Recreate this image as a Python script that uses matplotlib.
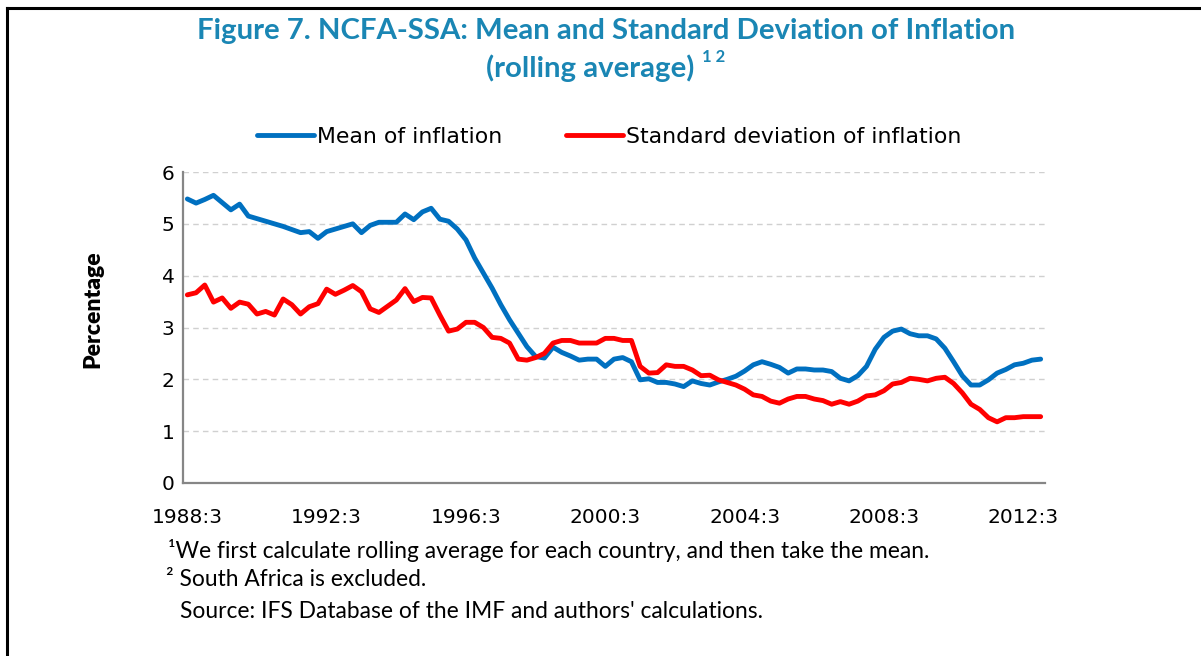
import matplotlib
matplotlib.use("Agg")
import matplotlib.pyplot as plt
from matplotlib.lines import Line2D

# ---------------- data ----------------
start_year = 1988
start_quarter = 3
n_points = 99

mean_inflation = [
    5.48, 5.40, 5.47, 5.55, 5.41, 5.27, 5.38, 5.15, 5.10, 5.05,
    5.00, 4.95, 4.89, 4.83, 4.85, 4.72, 4.85, 4.90, 4.95, 5.00,
    4.83, 4.97, 5.03, 5.03, 5.03, 5.19, 5.08, 5.23, 5.30, 5.09,
    5.05, 4.90, 4.69, 4.34, 4.05, 3.76, 3.44, 3.15, 2.89, 2.63,
    2.44, 2.41, 2.62, 2.52, 2.45, 2.37, 2.39, 2.39, 2.25, 2.39,
    2.42, 2.34, 1.99, 2.01, 1.94, 1.94, 1.91, 1.86, 1.97, 1.92,
    1.89, 1.95, 2.00, 2.06, 2.16, 2.28, 2.34, 2.29, 2.23, 2.12,
    2.20, 2.20, 2.18, 2.18, 2.15, 2.02, 1.97, 2.07, 2.25, 2.58,
    2.81, 2.93, 2.97, 2.88, 2.84, 2.84, 2.78, 2.60, 2.34, 2.07,
    1.89, 1.89, 1.99, 2.12, 2.19, 2.28, 2.31, 2.37, 2.39,
]

sd_inflation = [
    3.63, 3.67, 3.82, 3.49, 3.57, 3.37, 3.49, 3.45, 3.26, 3.31,
    3.24, 3.55, 3.44, 3.26, 3.40, 3.46, 3.74, 3.64, 3.72, 3.81,
    3.69, 3.36, 3.29, 3.41, 3.53, 3.75, 3.50, 3.58, 3.57, 3.24,
    2.93, 2.97, 3.10, 3.10, 3.00, 2.81, 2.79, 2.70, 2.39, 2.37,
    2.42, 2.50, 2.70, 2.75, 2.75, 2.70, 2.70, 2.70, 2.79, 2.79,
    2.75, 2.75, 2.25, 2.12, 2.13, 2.28, 2.25, 2.25, 2.18, 2.07,
    2.08, 1.99, 1.94, 1.89, 1.81, 1.70, 1.67, 1.58, 1.54, 1.62,
    1.67, 1.67, 1.62, 1.59, 1.52, 1.57, 1.52, 1.58, 1.68, 1.70,
    1.78, 1.91, 1.94, 2.02, 2.00, 1.97, 2.02, 2.04, 1.92, 1.74,
    1.52, 1.42, 1.26, 1.18, 1.26, 1.26, 1.28, 1.28, 1.28,
]

x_tick_labels = ["1988:3", "1992:3", "1996:3", "2000:3", "2004:3", "2008:3", "2012:3"]
y_ticks = [0, 1, 2, 3, 4, 5, 6]

title_line1 = "Figure 7. NCFA-SSA: Mean and Standard Deviation of Inflation"
title_line2 = "(rolling average)"
series_names = ["Mean of inflation", "Standard deviation of inflation"]
footnotes = [
    "\u00b9We first calculate rolling average for each country, and then take the mean.",
    "\u00b2 South Africa is excluded.",
    "Source: IFS Database of the IMF and authors' calculations.",
]

# ---------------- figure ----------------
W, H = 1201, 656
fig = plt.figure(figsize=(W / 100, H / 100), dpi=100)
fig.patch.set_facecolor("white")

ax = fig.add_axes([183 / W, 1 - 483 / H, (1045 - 183) / W, (483 - 172) / H])

x = list(range(n_points))
blue = "#0070C0"
red = "#FF0000"
ax.plot(x, mean_inflation, color=blue, lw=3.5, solid_joinstyle="round",
        solid_capstyle="round", label=series_names[0], zorder=3)
ax.plot(x, sd_inflation, color=red, lw=3.5, solid_joinstyle="round",
        solid_capstyle="round", label=series_names[1], zorder=3)

ax.set_xlim(-0.5, n_points - 0.5)
ax.set_ylim(0, 6)
ax.set_yticks(y_ticks)
ax.set_yticklabels([str(v) for v in y_ticks], fontsize=14.5, family="DejaVu Sans")
tick_pos = [i * 16 for i in range(len(x_tick_labels))]
ax.set_xticks(tick_pos)
ax.set_xticklabels(x_tick_labels, fontsize=14.5, family="DejaVu Sans")
ax.tick_params(axis="both", length=0, colors="black")
ax.tick_params(axis="x", pad=18)
ax.tick_params(axis="y", pad=6)

for v in y_ticks[1:]:
    ax.axhline(v, color="#D0D0D0", lw=1.0, ls=(0, (4, 3)), zorder=1)

for s in ["top", "right"]:
    ax.spines[s].set_visible(False)
for s in ["left", "bottom"]:
    ax.spines[s].set_color("#868686")
    ax.spines[s].set_linewidth(1.6)

ax.set_ylabel("Percentage", fontsize=16.5, fontweight="heavy", family="Lato")
ax.yaxis.set_label_coords((103 - 183) / 862, (483 - 309) / 311)

# legend
leg = fig.legend(loc="center", bbox_to_anchor=(609 / W, 1 - 137 / H), ncol=2,
                 frameon=False, handlelength=2.6, handletextpad=0.15,
                 columnspacing=2.9, prop={"family": "DejaVu Sans", "size": 15.8})

# title
title_color = "#1A86B4"
fig.text(606 / W, 1 - 31 / H, title_line1, ha="center", va="center",
         fontsize=21.2, fontweight="bold", color=title_color, family="Lato")
fig.text(486 / W, 1 - 68 / H, title_line2, ha="left", va="center",
         fontsize=21.2, fontweight="bold", color=title_color, family="Lato")
fig.text(702 / W, 1 - 57 / H, "1 2", ha="left", va="center",
         fontsize=12, fontweight="bold", color=title_color, family="Lato")

# footnotes
fig.text(168 / W, 1 - 551 / H, footnotes[0], ha="left", va="center", fontsize=16.4, family="Lato")
fig.text(166 / W, 1 - 580 / H, footnotes[1], ha="left", va="center", fontsize=16.4, family="Lato")
fig.text(180 / W, 1 - 612 / H, footnotes[2], ha="left", va="center", fontsize=16.4, family="Lato")

# outer frame (top and left)
fig.add_artist(Line2D([7 / W, 1.0], [1 - 8 / H, 1 - 8 / H], color="black", lw=2.2,
                      transform=fig.transFigure))
fig.add_artist(Line2D([7 / W, 7 / W], [0, 1 - 8 / H], color="black", lw=2.2,
                      transform=fig.transFigure))

fig.savefig("out.png", dpi=100, facecolor="white")
